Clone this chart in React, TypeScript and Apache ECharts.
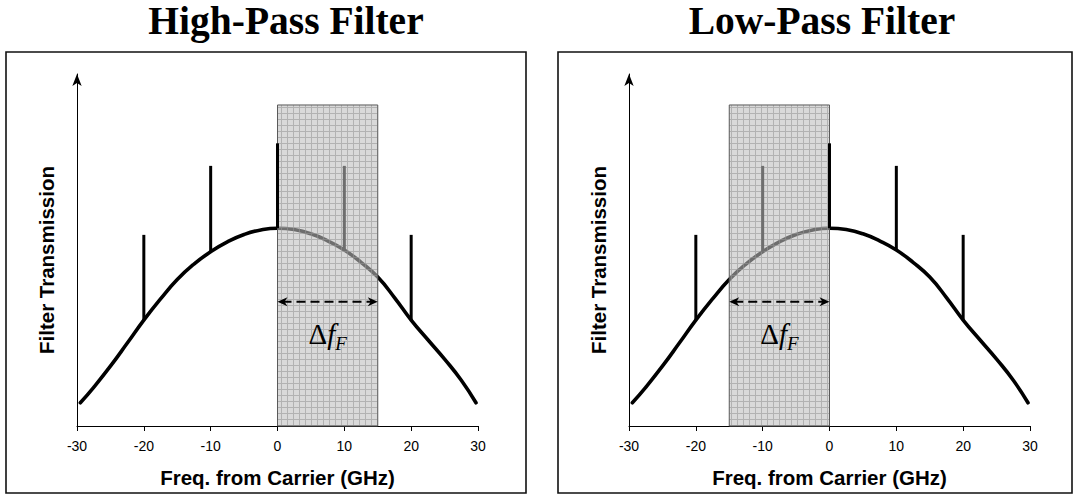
import { useEffect, useRef } from 'react';
import * as echarts from 'echarts';

// Shared spectrum: filter transmission envelope and the carrier / sideband tones
const curveFreq = [-29.5, -27.5, -25, -22.5, -20, -17.5, -15, -12.5, -10, -7.5, -5, -2.5, 0, 2.5, 5, 7.5, 10, 12.5, 15, 17.5, 20, 22.5, 25, 27.5, 29.7];
const curveTransmission = [6.6, 11.0, 17.0, 23.5, 30.1, 36.1, 41.6, 46.0, 49.5, 52.3, 54.4, 55.7, 56.2, 55.8, 54.6, 52.6, 50.0, 46.5, 42.3, 36.5, 30.1, 24.5, 19.0, 13.0, 6.6];
const toneFreq = [-20, -10, 0, 10, 20];
const tonePeak = [54.3, 73.9, 80.3, 73.9, 54.3];

// One panel per filter type
const panelTitles = ['High-Pass Filter', 'Low-Pass Filter'];
const passBands = [
  [0, 15],
  [-15, 0],
];
const bandTop = 91.2;
const arrowLevel = 35.3;
const labelLevel = 26.1;

const xName = 'Freq. from Carrier (GHz)';
const yName = 'Filter Transmission';

const SANS = '"Liberation Sans", Arial, sans-serif';
const SERIF = '"Liberation Serif", "Times New Roman", serif';

function makeGridPattern() {
  const size = 6;
  const cv = document.createElement('canvas');
  cv.width = size;
  cv.height = size;
  const ctx = cv.getContext('2d')!;
  ctx.fillStyle = 'rgba(190,190,190,0.58)';
  ctx.fillRect(0, 0, size, size);
  ctx.fillStyle = 'rgba(150,150,150,0.58)';
  ctx.fillRect(0, size - 1, size, 1);
  ctx.fillRect(size - 1, 0, 1, size - 1);
  return {
    image: cv.toDataURL(),
    imageWidth: size,
    imageHeight: size,
    repeat: 'repeat',
  };
}

export default function App() {
  const ref = useRef<HTMLDivElement>(null);

  useEffect(() => {
    if (!ref.current) return;
    const chart = echarts.init(ref.current, undefined, { renderer: 'svg' });
    const pattern = makeGridPattern();

    const curveData = curveFreq.map((f, i) => [f, curveTransmission[i]]);
    const baseAt = (f: number) => curveTransmission[curveFreq.indexOf(f)];

    const grids = [0, 1].map((i) => ({
      left: i === 0 ? 77 : 629,
      top: 74,
      width: 401,
      height: 352,
    }));

    const xAxes = [0, 1].map((i) => ({
      type: 'value',
      gridIndex: i,
      min: -30,
      max: 30,
      interval: 10,
      name: xName,
      nameLocation: 'middle',
      nameGap: 41,
      nameTextStyle: { fontFamily: SANS, fontWeight: 'bold', fontSize: 20.5, color: '#000' },
      axisLine: { show: true, lineStyle: { color: '#000', width: 1 } },
      axisTick: { show: true, length: 5, lineStyle: { color: '#000', width: 1 } },
      axisLabel: { color: '#000', fontFamily: SANS, fontSize: 14, margin: 13 },
      splitLine: { show: false },
    }));

    const yAxes = [0, 1].map((i) => ({
      type: 'value',
      gridIndex: i,
      min: 0,
      max: 100,
      name: yName,
      nameLocation: 'middle',
      nameGap: 20,
      nameTextStyle: {
        fontFamily: SANS,
        fontWeight: 'bold',
        fontSize: 20.5,
        color: '#000',
        padding: [0, 20, 0, 0],
      },
      axisLine: {
        show: true,
        onZero: false,
        symbol: ['none', 'arrow'],
        symbolSize: [7, 12],
        lineStyle: { color: '#000', width: 1 },
      },
      axisTick: { show: false },
      axisLabel: { show: false },
      splitLine: { show: false },
    }));

    const series: any[] = [];
    [0, 1].forEach((i) => {
      const [b0, b1] = passBands[i];
      // transmission envelope (sits under the shaded pass band)
      series.push({
        type: 'line',
        xAxisIndex: i,
        yAxisIndex: i,
        data: curveData,
        smooth: 0.5,
        showSymbol: false,
        z: 1,
        lineStyle: { color: '#000', width: 3.6, cap: 'round' },
      });
      // shaded filter band
      series.push({
        type: 'custom',
        xAxisIndex: i,
        yAxisIndex: i,
        z: 2,
        silent: true,
        data: [[b0, b1, bandTop]],
        renderItem: (_p: any, api: any) => {
          const p0 = api.coord([api.value(0), 0]);
          const p1 = api.coord([api.value(1), api.value(2)]);
          return {
            type: 'rect',
            shape: { x: p0[0], y: p1[1], width: p1[0] - p0[0], height: p0[1] - p1[1] },
            style: { fill: pattern, stroke: '#5a5a5a', lineWidth: 1 },
          };
        },
      });
      // carrier and sideband tones
      series.push({
        type: 'custom',
        xAxisIndex: i,
        yAxisIndex: i,
        z: 3,
        silent: true,
        data: toneFreq.map((f, k) => [f, baseAt(f), tonePeak[k], f > Math.min(b0, b1) && f < Math.max(b0, b1) ? 1 : 0]),
        renderItem: (_p: any, api: any) => {
          const a = api.coord([api.value(0), api.value(1)]);
          const b = api.coord([api.value(0), api.value(2)]);
          return {
            type: 'line',
            shape: { x1: a[0], y1: a[1], x2: b[0], y2: b[1] },
            style: { stroke: api.value(3) ? '#6e6e6e' : '#000', lineWidth: 3 },
          };
        },
      });
      // filter bandwidth marker
      series.push({
        type: 'custom',
        xAxisIndex: i,
        yAxisIndex: i,
        z: 4,
        silent: true,
        data: [[b0, b1, arrowLevel, labelLevel]],
        renderItem: (_p: any, api: any) => {
          const s = api.value(0);
          const e = api.value(1);
          const a = api.coord([s, api.value(2)]);
          const b = api.coord([e, api.value(2)]);
          const c = api.coord([(s + e) / 2, api.value(3)]);
          const hl = 10;
          const hw = 4.5;
          return {
            type: 'group',
            children: [
              {
                type: 'line',
                shape: { x1: a[0] + 5, y1: a[1], x2: b[0] - 5, y2: b[1] },
                style: { stroke: '#000', lineWidth: 2, lineDash: [9, 5] },
              },
              {
                type: 'polygon',
                shape: { points: [[a[0], a[1]], [a[0] + hl, a[1] - hw], [a[0] + hl - 3, a[1]], [a[0] + hl, a[1] + hw]] },
                style: { fill: '#000' },
              },
              {
                type: 'polygon',
                shape: { points: [[b[0], b[1]], [b[0] - hl, b[1] - hw], [b[0] - hl + 3, b[1]], [b[0] - hl, b[1] + hw]] },
                style: { fill: '#000' },
              },
              {
                type: 'text',
                x: c[0],
                y: c[1],
                style: {
                  text: '{d|Δ}{f|f}{s|F}',
                  align: 'center',
                  verticalAlign: 'middle',
                  fontFamily: SERIF,
                  fontSize: 28,
                  fill: '#000',
                  rich: {
                    d: { fontFamily: SERIF, fontSize: 29, lineHeight: 38, fill: '#000' },
                    f: { fontFamily: SERIF, fontStyle: 'italic', fontSize: 29, lineHeight: 38, fill: '#000' },
                    s: { fontFamily: SERIF, fontStyle: 'italic', fontSize: 19, lineHeight: 38, verticalAlign: 'bottom', fill: '#000' },
                  },
                },
              },
            ],
          };
        },
      });
    });

    chart.setOption({
      animation: false,
      backgroundColor: '#fff',
      title: panelTitles.map((t, i) => ({
        text: t,
        left: i === 0 ? 286 : 822,
        top: 1,
        textAlign: 'center',
        padding: 0,
        textStyle: { fontFamily: SERIF, fontWeight: 'bold', fontSize: 39.5, color: '#000' },
      })),
      grid: grids,
      xAxis: xAxes,
      yAxis: yAxes,
      series,
      graphic: [
        { type: 'rect', shape: { x: 6, y: 52, width: 520, height: 441 }, style: { fill: 'none', stroke: '#111', lineWidth: 1.6 } },
        { type: 'rect', shape: { x: 558, y: 52, width: 514, height: 441 }, style: { fill: 'none', stroke: '#111', lineWidth: 1.6 } },
      ],
    });

    return () => chart.dispose();
  }, []);

  return (
    <div
      ref={ref}
      style={{ position: 'fixed', left: 0, top: 0, width: 1077, height: 499, background: '#fff' }}
    />
  );
}
